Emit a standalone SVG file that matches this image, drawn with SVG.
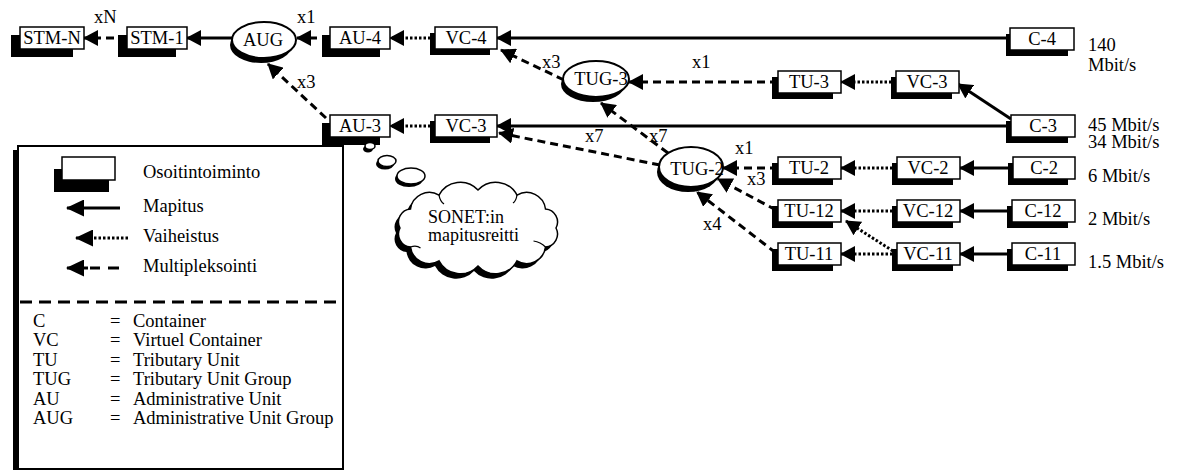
<svg xmlns="http://www.w3.org/2000/svg" width="1177" height="472" viewBox="0 0 1177 472">
<defs>
<style>
.bx{fill:#fff;stroke:#000;stroke-width:1.5}
.sh{fill:#000}
.t{font-family:"Liberation Serif","Times New Roman",serif;font-size:18.5px;fill:#000}
.c{text-anchor:middle}
.ln{stroke:#000;stroke-width:3;fill:none}
.ar{marker-end:url(#ah)}
.ar2{marker-end:url(#ah2)}
.dash{stroke-dasharray:8 5}
.dot{stroke-dasharray:2.5 2}
.el{fill:#fff;stroke:#000;stroke-width:2}
</style>
<marker id="ah" viewBox="0 0 15 16" refX="14" refY="8" markerWidth="15" markerHeight="16" markerUnits="userSpaceOnUse" orient="auto">
<path d="M0,0 L15,8 L0,16 Z" fill="#000"/>
</marker>
<marker id="ah2" viewBox="0 0 18 17" refX="17" refY="8.5" markerWidth="18" markerHeight="17" markerUnits="userSpaceOnUse" orient="auto">
<path d="M0,0 L18,8.5 L0,17 Z" fill="#000"/>
</marker>
<path id="cloud" d="M556,228 A13,13 0 0 1 545.5,247 A19,19 0 0 1 517,260.9 A24,24 0 0 1 478,266 A24,24 0 0 1 439,260.9 A19,19 0 0 1 410.5,247 A13,13 0 0 1 400,228 A13,13 0 0 1 410.5,209 A19,19 0 0 1 439,195.1 A24,24 0 0 1 478,190 A24,24 0 0 1 517,195.1 A19,19 0 0 1 545.5,209 A13,13 0 0 1 556,228 Z"/>
</defs>
<rect width="1177" height="472" fill="#fff"/>

<g id="connectors">
<line class="ln dash ar" x1="127" y1="38" x2="84" y2="38"/>
<line class="ln ar" x1="232" y1="38" x2="187" y2="38"/>
<line class="ln dash ar" x1="330" y1="38" x2="297" y2="38"/>
<line class="ln dot ar" x1="435" y1="38" x2="390" y2="38"/>
<line class="ln ar" x1="1010" y1="38" x2="497" y2="38"/>
<line class="ln dash ar" x1="564" y1="80" x2="501" y2="50"/>
<line class="ln dash ar" x1="778" y1="82" x2="629" y2="82"/>
<line class="ln dot ar" x1="896" y1="82" x2="841" y2="82"/>
<line class="ln ar" x1="1011" y1="119" x2="958" y2="84"/>
<line class="ln ar" x1="1011" y1="126" x2="497" y2="126"/>
<line class="ln dot ar" x1="435" y1="126" x2="390" y2="126"/>
<line class="ln dash ar" x1="326" y1="118" x2="268" y2="64"/>
<line class="ln dash ar" x1="660" y1="165" x2="499" y2="133"/>
<line class="ln dash ar" x1="668" y1="153" x2="601" y2="103"/>
<line class="ln dash ar" x1="778" y1="168" x2="723" y2="168"/>
<line class="ln dot ar" x1="897" y1="168" x2="841" y2="168"/>
<line class="ln ar" x1="1013" y1="168" x2="960" y2="168"/>
<line class="ln dash ar" x1="776" y1="210" x2="718" y2="179"/>
<line class="ln dash ar" x1="776" y1="253" x2="697" y2="192"/>
<line class="ln dot ar" x1="897" y1="211" x2="841" y2="211"/>
<line class="ln ar" x1="1012" y1="211" x2="960" y2="211"/>
<line class="ln dot ar" x1="897" y1="254" x2="841" y2="254"/>
<line class="ln ar" x1="1012" y1="254" x2="960" y2="254"/>
<line class="ln dot ar" x1="893" y1="251" x2="846" y2="221"/>
</g>

<g id="labels" class="t">
<text x="94" y="23">xN</text>
<text x="297" y="23">x1</text>
<text x="297" y="88">x3</text>
<text x="542" y="68">x3</text>
<text x="692" y="68">x1</text>
<text x="585" y="142">x7</text>
<text x="649" y="142">x7</text>
<text x="735" y="154">x1</text>
<text x="747" y="185">x3</text>
<text x="703" y="230">x4</text>
<text x="1088" y="51">140</text>
<text x="1088" y="71">Mbit/s</text>
<text x="1088" y="131">45 Mbit/s</text>
<text x="1088" y="148">34 Mbit/s</text>
<text x="1088" y="182">6 Mbit/s</text>
<text x="1088" y="225">2 Mbit/s</text>
<text x="1088" y="268">1.5 Mbit/s</text>
</g>

<g id="STM-N"><rect class="sh" x="11" y="35" width="62" height="22"/><rect class="bx" x="20" y="27" width="64" height="22"/><text class="t c" x="52" y="44">STM-N</text></g>
<g id="STM-1"><rect class="sh" x="118" y="35" width="58" height="22"/><rect class="bx" x="127" y="27" width="60" height="22"/><text class="t c" x="157" y="44">STM-1</text></g>
<g id="AUG"><ellipse class="sh" cx="261" cy="45" rx="31" ry="18"/><ellipse class="el" cx="264" cy="40" rx="32" ry="18"/><text class="t c" x="263" y="46">AUG</text></g>
<g id="AU-4"><rect class="sh" x="322" y="35" width="58" height="22"/><rect class="bx" x="330" y="27" width="60" height="22"/><text class="t c" x="360" y="44">AU-4</text></g>
<g id="VC-4"><rect class="sh" x="430" y="33" width="60" height="22"/><rect class="bx" x="435" y="27" width="62" height="22"/><text class="t c" x="466" y="44">VC-4</text></g>
<g id="C-4"><rect class="sh" x="1006" y="34" width="62" height="22"/><rect class="bx" x="1010" y="28" width="64" height="22"/><text class="t c" x="1042" y="45">C-4</text></g>
<g id="TUG-3"><ellipse class="sh" cx="593" cy="84" rx="32" ry="18"/><ellipse class="el" cx="596" cy="79" rx="33" ry="18"/><text class="t c" x="601" y="85">TUG-3</text></g>
<g id="TU-3"><rect class="sh" x="772" y="77" width="61" height="22"/><rect class="bx" x="778" y="71" width="63" height="22"/><text class="t c" x="809" y="88">TU-3</text></g>
<g id="VC-3a"><rect class="sh" x="891" y="77" width="61" height="22"/><rect class="bx" x="896" y="71" width="63" height="22"/><text class="t c" x="927" y="88">VC-3</text></g>
<g id="C-3"><rect class="sh" x="1006" y="121" width="62" height="22"/><rect class="bx" x="1011" y="115" width="64" height="22"/><text class="t c" x="1043" y="132">C-3</text></g>
<g id="AU-3"><rect class="sh" x="322" y="123" width="58" height="22"/><rect class="bx" x="330" y="115" width="60" height="22"/><text class="t c" x="360" y="132">AU-3</text></g>
<g id="VC-3b"><rect class="sh" x="430" y="121" width="60" height="22"/><rect class="bx" x="435" y="115" width="62" height="22"/><text class="t c" x="466" y="132">VC-3</text></g>
<g id="TUG-2"><ellipse class="sh" cx="688" cy="172" rx="31" ry="20"/><ellipse class="el" cx="691" cy="167" rx="32" ry="20"/><text class="t c" x="697" y="175">TUG-2</text></g>
<g id="TU-2"><rect class="sh" x="772" y="163" width="61" height="22"/><rect class="bx" x="778" y="157" width="63" height="22"/><text class="t c" x="809" y="174">TU-2</text></g>
<g id="VC-2"><rect class="sh" x="892" y="163" width="61" height="22"/><rect class="bx" x="897" y="157" width="63" height="22"/><text class="t c" x="928" y="174">VC-2</text></g>
<g id="C-2"><rect class="sh" x="1008" y="163" width="60" height="22"/><rect class="bx" x="1013" y="157" width="62" height="22"/><text class="t c" x="1044" y="174">C-2</text></g>
<g id="TU-12"><rect class="sh" x="772" y="206" width="61" height="22"/><rect class="bx" x="778" y="200" width="63" height="22"/><text class="t c" x="809" y="217">TU-12</text></g>
<g id="VC-12"><rect class="sh" x="892" y="206" width="61" height="22"/><rect class="bx" x="897" y="200" width="63" height="22"/><text class="t c" x="928" y="217">VC-12</text></g>
<g id="C-12"><rect class="sh" x="1007" y="206" width="61" height="22"/><rect class="bx" x="1012" y="200" width="63" height="22"/><text class="t c" x="1043" y="217">C-12</text></g>
<g id="TU-11"><rect class="sh" x="772" y="249" width="61" height="22"/><rect class="bx" x="778" y="243" width="63" height="22"/><text class="t c" x="809" y="260">TU-11</text></g>
<g id="VC-11"><rect class="sh" x="892" y="249" width="61" height="22"/><rect class="bx" x="897" y="243" width="63" height="22"/><text class="t c" x="928" y="260">VC-11</text></g>
<g id="C-11"><rect class="sh" x="1007" y="249" width="61" height="22"/><rect class="bx" x="1012" y="243" width="63" height="22"/><text class="t c" x="1043" y="260">C-11</text></g>

<g id="cloud-note">
<ellipse class="sh" cx="368" cy="149" rx="5" ry="3.5"/><ellipse class="el" cx="370" cy="146" rx="5" ry="3.5" style="stroke-width:1.5"/>
<ellipse class="sh" cx="385" cy="164" rx="9" ry="5.5"/><ellipse class="el" cx="387" cy="161" rx="9" ry="5.5" style="stroke-width:1.5"/>
<ellipse class="sh" cx="409" cy="179" rx="14" ry="8"/><ellipse class="el" cx="411" cy="176" rx="14" ry="8" style="stroke-width:1.5"/>
<use href="#cloud" fill="#000" transform="translate(-4,5)"/>
<use href="#cloud" fill="#fff" stroke="#000" stroke-width="1.5"/>
<path d="M410.5,247 q6,-2 10,1 M545.5,247 q-5,-5 -12,-6 M439,195.1 q1,6 5,9 M517,195.1 q-1,6 -4,8" fill="none" stroke="#000" stroke-width="1.2"/>
<text class="t" x="428" y="223" style="font-size:18px">SONET:in</text>
<text class="t" x="428" y="241" style="font-size:18px">mapitusreitti</text>
</g>

<g id="legend">
<rect x="13" y="150" width="6" height="320" fill="#000"/>
<rect x="18" y="146" width="325" height="323" fill="#fff" stroke="#000" stroke-width="2"/>
<rect x="54" y="169" width="55" height="23" fill="#000"/>
<rect class="bx" x="62" y="157" width="53" height="23"/>
<text class="t" x="143" y="178">Osoitintoiminto</text>
<line class="ln ar2" x1="120" y1="208" x2="67" y2="208"/>
<text class="t" x="143" y="212">Mapitus</text>
<line class="ln dot ar2" x1="128" y1="238" x2="76" y2="238"/>
<text class="t" x="143" y="242">Vaiheistus</text>
<line class="ln ar2" x1="88" y1="268" x2="67" y2="268"/>
<line class="ln" x1="90" y1="268" x2="100" y2="268"/>
<line class="ln" x1="108" y1="268" x2="119" y2="268"/>
<text class="t" x="143" y="272">Multipleksointi</text>
<line x1="20" y1="302" x2="341" y2="302" stroke="#000" stroke-width="3" stroke-dasharray="12 7"/>
<g class="t">
<text x="33" y="327">C</text><text x="110" y="327">=</text><text x="133" y="327">Container</text>
<text x="33" y="346">VC</text><text x="110" y="346">=</text><text x="133" y="346">Virtuel Container</text>
<text x="33" y="366">TU</text><text x="110" y="366">=</text><text x="133" y="366">Tributary Unit</text>
<text x="33" y="385">TUG</text><text x="110" y="385">=</text><text x="133" y="385">Tributary Unit Group</text>
<text x="33" y="405">AU</text><text x="110" y="405">=</text><text x="133" y="405">Administrative Unit</text>
<text x="33" y="424">AUG</text><text x="110" y="424">=</text><text x="133" y="424">Administrative Unit Group</text>
</g>
</g>
</svg>
